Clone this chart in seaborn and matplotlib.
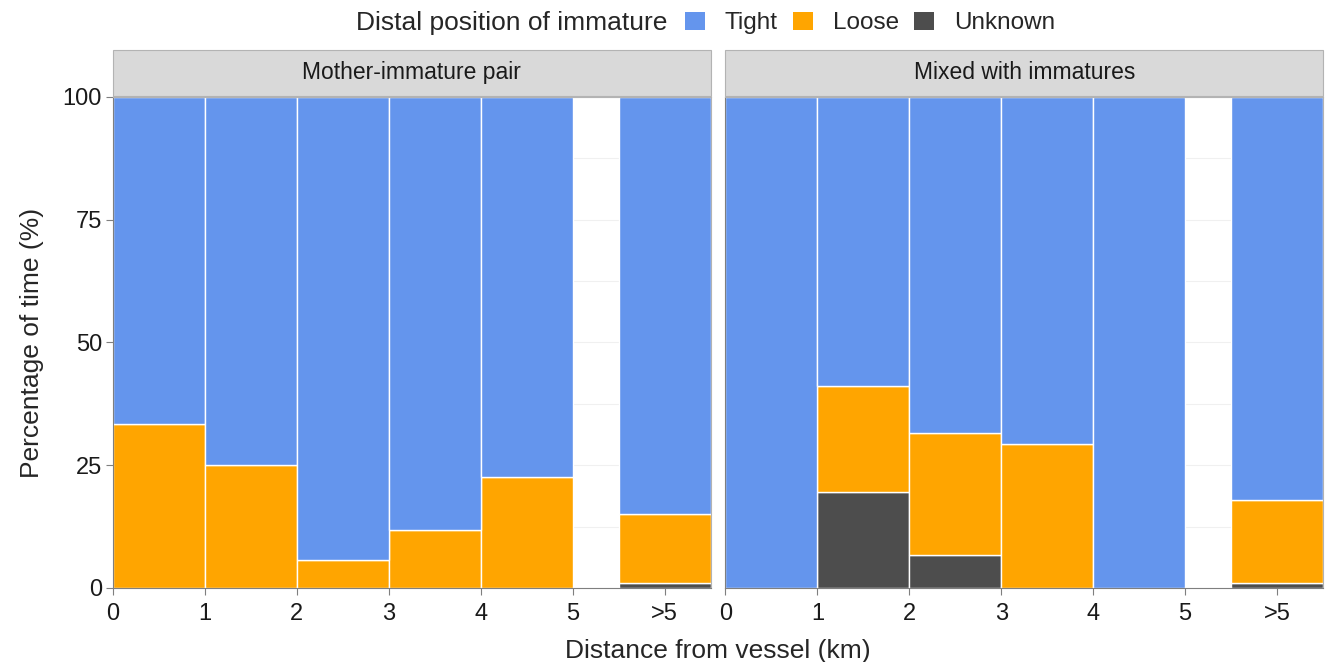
import pandas as pd
import matplotlib.pyplot as plt
import seaborn as sns
from matplotlib.patches import Patch, Rectangle

# distance bins (km); the ">5" bin is drawn centred at 6
distance_km = [0.5, 1.5, 2.5, 3.5, 4.5, 6.0]
tick_pos = [0, 1, 2, 3, 4, 5, 6]
tick_labels = ['0', '1', '2', '3', '4', '5', '>5']
bin_edges = [0, 1, 2, 3, 4, 5, 5.5, 6.5]

groups = ['Mother-immature pair', 'Mixed with immatures']
positions = ['Tight', 'Loose', 'Unknown']

mother_loose = [33.3, 25.0, 5.6, 11.8, 22.7, 13.9]
mother_unknown = [0, 0, 0, 0, 0, 1.1]
mixed_loose = [0, 21.6, 24.9, 29.4, 0, 16.9]
mixed_unknown = [0, 19.6, 6.7, 0, 0, 1.0]

colors = {'Tight': '#6495ED', 'Loose': '#FFA500', 'Unknown': '#4D4D4D'}

rows = []
for grp, loose, unk in [(groups[0], mother_loose, mother_unknown),
                        (groups[1], mixed_loose, mixed_unknown)]:
    for d, l, u in zip(distance_km, loose, unk):
        rows.append((grp, d, 'Tight', 100 - l - u))
        rows.append((grp, d, 'Loose', l))
        rows.append((grp, d, 'Unknown', u))
df = pd.DataFrame(rows, columns=['group', 'distance', 'position', 'pct'])

sns.set_style('white')
plt.rcParams['font.family'] = ['Liberation Sans', 'DejaVu Sans']

fig, axes = plt.subplots(1, 2, figsize=(13.25, 6.62), dpi=100, sharey=True)
fig.subplots_adjust(left=0.0853, right=0.9985, bottom=0.1118, top=0.8535, wspace=0.025)

for ax, grp in zip(axes, groups):
    sub = df[df['group'] == grp]
    sns.histplot(data=sub, x='distance', weights='pct', hue='position',
                 hue_order=positions, palette=colors, multiple='stack',
                 bins=bin_edges, alpha=1, edgecolor='white', linewidth=1,
                 legend=False, ax=ax)
    ax.set_xlim(0, 6.5)
    ax.set_ylim(0, 100)
    ax.set_xticks(tick_pos)
    ax.set_xticklabels(tick_labels)
    ax.set_yticks([0, 25, 50, 75, 100])
    ax.set_yticks([12.5, 37.5, 62.5, 87.5], minor=True)
    ax.grid(axis='y', which='both', color='#F0F0F0', linewidth=0.8)
    ax.set_axisbelow(True)
    ax.tick_params(axis='both', which='major', labelsize=17, color='#7F7F7F',
                   labelcolor='#1A1A1A', length=5, width=0.8, pad=3,
                   direction='out', bottom=True, left=True)
    ax.tick_params(axis='x', which='major', pad=6)
    ax.tick_params(axis='both', which='minor', length=0)
    for side, sp in ax.spines.items():
        sp.set_visible(True)
        sp.set_linewidth(0.8)
        sp.set_color('#7F7F7F' if side in ('left', 'bottom') else '#B3B3B3')
    ax.set_xlabel('')
    ax.set_ylabel('')
    # facet strip
    strip = Rectangle((0, 1.002), 1, 0.0937, transform=ax.transAxes,
                      facecolor='#D9D9D9', edgecolor='#B3B3B3', linewidth=0.8,
                      clip_on=False)
    ax.add_patch(strip)
    ax.text(0.5, 1.002 + 0.0937 / 2, grp, transform=ax.transAxes,
            ha='center', va='center', fontsize=16.5, color='#1A1A1A')

axes[1].tick_params(axis='y', labelleft=False, left=False)
axes[0].set_ylabel('Percentage of time (%)', fontsize=19, labelpad=13)
fig.text(0.542, 0.016, 'Distance from vessel (km)', ha='center', va='center', fontsize=19)

handles = [Patch(facecolor=colors[p], edgecolor='none') for p in positions]
fig.legend(handles, positions, loc='center left', bbox_to_anchor=(0.517, 0.965),
           ncol=3, frameon=False, fontsize=17.5, handlelength=0.82, handleheight=0.75,
           handletextpad=0.82, columnspacing=0.62, borderpad=0, borderaxespad=0)
fig.text(0.504, 0.965, 'Distal position of immature', ha='right', va='center', fontsize=19)

fig.savefig('out.png', dpi=100)
